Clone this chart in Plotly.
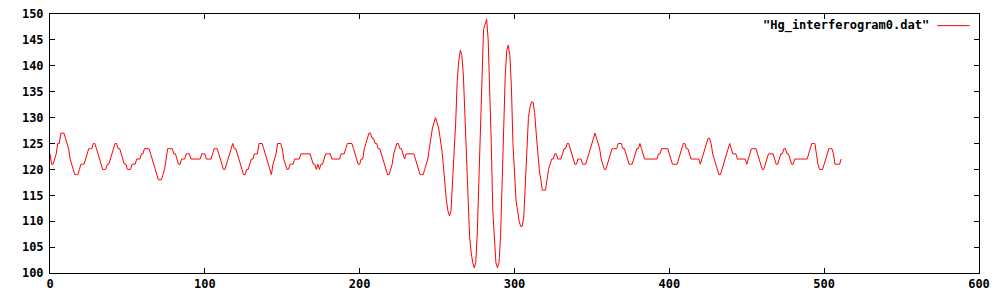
import plotly.graph_objects as go

series_name = '"Hg_interferogram0.dat"'

values_000_099 = [
    123, 121, 121, 122, 123, 125, 125, 127, 127, 127,
    126, 125, 124, 122, 121, 120, 119, 119, 119, 120,
    121, 121, 121, 122, 123, 124, 124, 124, 125, 125,
    124, 123, 122, 121, 120, 120, 120, 121, 121, 122,
    123, 124, 125, 125, 124, 124, 123, 122, 121, 121,
    120, 120, 120, 121, 121, 121, 122, 122, 122, 123,
    123, 124, 124, 124, 124, 123, 122, 121, 120, 119,
    118, 118, 118, 119, 120, 122, 124, 124, 124, 124,
    123, 123, 122, 121, 121, 122, 122, 122, 123, 123,
    123, 122, 122, 122, 122, 122, 122, 122, 123, 123,
]
values_100_199 = [
    123, 122, 122, 122, 122, 123, 124, 124, 124, 123,
    122, 121, 120, 120, 121, 122, 123, 124, 125, 124,
    124, 123, 122, 121, 120, 119, 119, 120, 120, 121,
    122, 122, 123, 123, 123, 125, 125, 125, 124, 123,
    122, 121, 120, 119, 121, 122, 123, 125, 125, 125,
    124, 122, 121, 120, 120, 121, 121, 121, 122, 122,
    122, 122, 123, 123, 123, 123, 123, 123, 123, 122,
    121, 121, 120, 121, 120, 121, 121, 122, 123, 123,
    123, 123, 122, 122, 122, 122, 122, 122, 123, 123,
    123, 124, 125, 125, 125, 125, 124, 123, 122, 121,
]
values_200_299 = [
    121, 122, 122, 124, 125, 126, 127, 127, 126, 126,
    125, 125, 124, 124, 123, 122, 121, 120, 119, 119,
    120, 121, 123, 124, 125, 125, 124, 124, 123, 122,
    123, 123, 123, 123, 123, 123, 122, 121, 120, 119,
    119, 119, 120, 121, 122, 124, 126, 128, 129, 130,
    129, 128, 126, 124, 121, 117, 114, 112, 111, 112,
    117, 123, 129, 137, 141, 143, 142, 138, 130, 121,
    114, 107, 104, 102, 101, 102, 108, 119, 130, 141,
    147, 148, 149, 145, 136, 125, 112, 106, 102, 101,
    102, 107, 117, 127, 138, 143, 144, 142, 136, 125,
]
values_300_399 = [
    118, 114, 112, 110, 109, 109, 111, 117, 124, 130,
    132, 133, 133, 131, 127, 123, 120, 118, 116, 116,
    116, 118, 120, 121, 122, 122, 123, 123, 122, 122,
    122, 123, 124, 124, 125, 125, 124, 123, 122, 121,
    121, 122, 122, 122, 121, 121, 121, 122, 123, 124,
    125, 126, 127, 126, 125, 124, 122, 121, 120, 120,
    121, 122, 123, 124, 124, 124, 124, 125, 125, 125,
    124, 124, 123, 122, 121, 121, 121, 122, 123, 124,
    124, 125, 124, 123, 122, 122, 122, 122, 122, 122,
    122, 122, 122, 123, 123, 124, 124, 124, 124, 124,
]
values_400_511 = [
    123, 122, 121, 121, 121, 121, 122, 123, 124, 125,
    125, 124, 124, 123, 122, 122, 122, 122, 122, 122,
    121, 122, 123, 124, 125, 126, 126, 125, 123, 122,
    121, 120, 119, 119, 120, 121, 122, 123, 124, 125,
    124, 123, 123, 123, 122, 122, 122, 122, 122, 122,
    121, 122, 123, 124, 124, 124, 124, 123, 122, 121,
    120, 120, 121, 122, 123, 123, 123, 123, 122, 121,
    121, 122, 123, 123, 124, 124, 123, 123, 122, 121,
    121, 122, 122, 122, 122, 122, 122, 122, 122, 122,
    123, 124, 125, 125, 125, 123, 121, 120, 120, 120,
    121, 122, 123, 124, 124, 124, 123, 121, 121, 121,
    121, 122,
]

values = values_000_099 + values_100_199 + values_200_299 + values_300_399 + values_400_511
samples = list(range(len(values)))

x_ticks = [0, 100, 200, 300, 400, 500, 600]
y_ticks = [100, 105, 110, 115, 120, 125, 130, 135, 140, 145, 150]

RED = "#ff0000"
FONT = "DejaVu Sans Mono"

fig = go.Figure()
fig.add_trace(go.Scatter(
    x=samples, y=values, mode="lines",
    line=dict(color=RED, width=1),
    name=series_name, showlegend=False,
))

axis_common = dict(
    showline=True, linecolor="black", linewidth=1, mirror="ticks",
    ticks="inside", ticklen=5, tickcolor="black", tickwidth=1,
    showgrid=False, zeroline=False, automargin=False,
    tickfont=dict(family=FONT, size=12, color="black", weight="bold"),
)

fig.update_layout(
    width=1000, height=300,
    margin=dict(l=50, r=21, t=14, b=27, autoexpand=False),
    paper_bgcolor="white", plot_bgcolor="white",
    xaxis=dict(range=[0, 600], tickvals=x_ticks, ticktext=[str(v) for v in x_ticks], **axis_common),
    yaxis=dict(range=[100, 150], tickvals=y_ticks, ticktext=[str(v) for v in y_ticks],
               ticklabelstandoff=3, **axis_common),
)

# gnuplot-style key: text on the left, line sample on the right
fig.add_annotation(
    xref="paper", yref="paper", x=0.948, y=0.955, xanchor="right", yanchor="middle",
    text=series_name, showarrow=False,
    font=dict(family=FONT, size=12, color="black", weight="bold"),
)
fig.add_shape(
    type="line", xref="paper", yref="paper",
    x0=0.955, x1=0.990, y0=0.955, y1=0.955,
    line=dict(color=RED, width=1),
)

fig.write_html("out.html")
